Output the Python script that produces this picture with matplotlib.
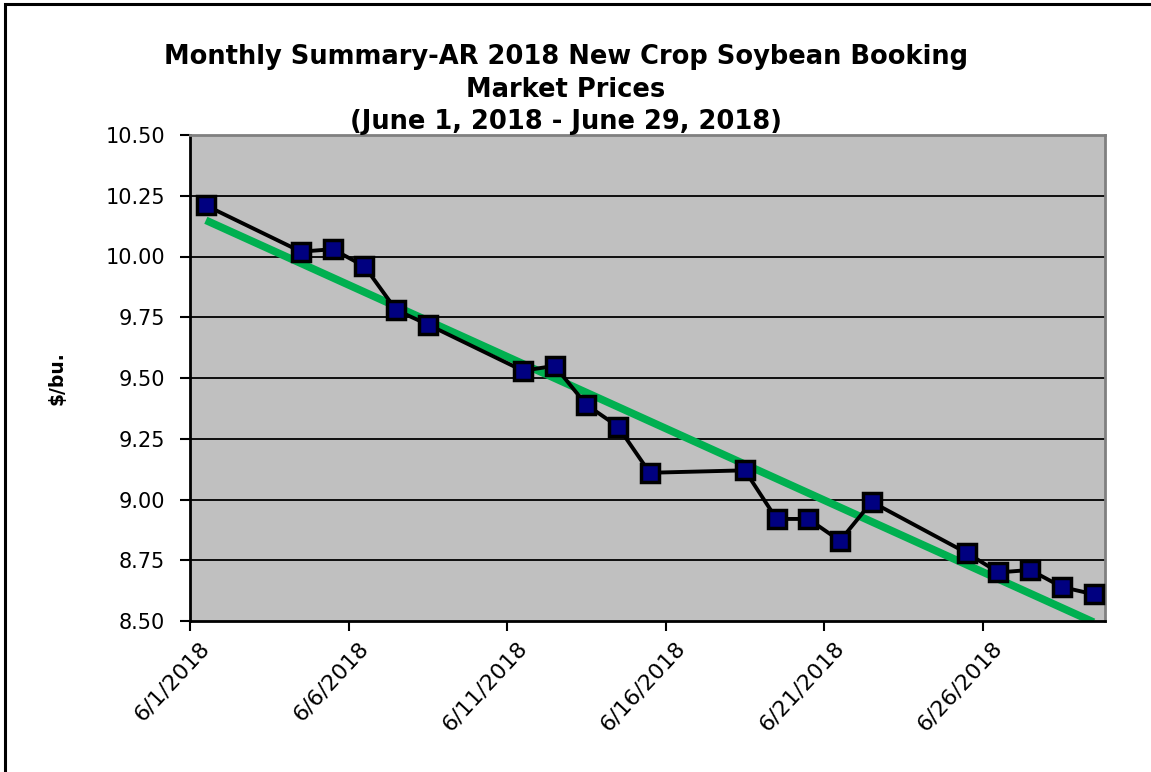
import matplotlib
matplotlib.use("Agg")
import matplotlib.pyplot as plt
import matplotlib.dates as mdates
import matplotlib.transforms as mtransforms
from matplotlib.patches import Rectangle
import numpy as np
from datetime import datetime, timedelta

plt.rcParams['font.family'] = ['DejaVu Sans']

# ---- data ----
dates = ["2018-06-01", "2018-06-04", "2018-06-05", "2018-06-06", "2018-06-07",
         "2018-06-08", "2018-06-11", "2018-06-12", "2018-06-13", "2018-06-14",
         "2018-06-15", "2018-06-18", "2018-06-19", "2018-06-20", "2018-06-21",
         "2018-06-22", "2018-06-25", "2018-06-26", "2018-06-27", "2018-06-28",
         "2018-06-29"]
prices = [10.21, 10.02, 10.03, 9.96, 9.78, 9.72, 9.53, 9.55, 9.39, 9.30, 9.11,
          9.12, 8.92, 8.92, 8.83, 8.99, 8.78, 8.70, 8.71, 8.64, 8.61]
x_tick_labels = ["6/1/2018", "6/6/2018", "6/11/2018", "6/16/2018", "6/21/2018", "6/26/2018"]
y_ticks = [8.50, 8.75, 9.00, 9.25, 9.50, 9.75, 10.00, 10.25, 10.50]
title_lines = ["Monthly Summary-AR 2018 New Crop Soybean Booking",
               "Market Prices",
               "(June 1, 2018 - June 29, 2018)"]
y_label = "$/bu."

# ---- figure ----
W, H = 1151, 772
fig = plt.figure(figsize=(W / 100, H / 100), dpi=100)
fig.patch.set_facecolor("white")

# outer frame
fig.patches.append(Rectangle((5 / W, -0.2), 1.2, 1.2 - 4 / H,
                             transform=fig.transFigure, fill=False,
                             edgecolor="black", linewidth=2.2, clip_on=False))

ax = fig.add_axes([190 / W, (H - 621) / H, (1105 - 190) / W, (621 - 135) / H])
ax.set_facecolor("#C0C0C0")

# positions: each day centered (Excel date axis)
dt = [datetime.strptime(d, "%Y-%m-%d") + timedelta(hours=12) for d in dates]
xnum = mdates.date2num(dt)

# grid lines
for yv in y_ticks[1:-1]:
    ax.axhline(yv, color="black", linewidth=1.3, zorder=1)

# trend line (linear fit)
coef = np.polyfit(xnum, prices, 1)
ax.plot([xnum[0], xnum[-1]], np.polyval(coef, [xnum[0], xnum[-1]]),
        color="#00B050", linewidth=5.5, zorder=2, solid_capstyle="butt")

ax.plot(xnum, prices, color="black", linewidth=2.8, zorder=3,
        marker="s", markersize=13, markerfacecolor="#000080",
        markeredgecolor="black", markeredgewidth=2.5)

x0 = mdates.date2num(datetime(2018, 6, 1))
ax.set_xlim(x0, x0 + 28.86)
ax.set_ylim(8.50, 10.50)

tick_pos = [mdates.date2num(datetime.strptime(t, "%m/%d/%Y")) for t in x_tick_labels]
ax.set_xticks(tick_pos)
ax.set_xticklabels(x_tick_labels, rotation=47, ha="right", rotation_mode="anchor",
                   fontsize=16)
ax.set_yticks(y_ticks)
ax.set_yticklabels([f"{v:.2f}" for v in y_ticks], fontsize=15)
ax.tick_params(axis="both", direction="out", length=7, width=1.5, color="black")
ax.tick_params(axis="x", pad=5)
ax.tick_params(axis="y", pad=11)

shift = mtransforms.ScaledTranslation(9 / 100, 0, fig.dpi_scale_trans)
for lbl in ax.get_xticklabels():
    lbl.set_transform(lbl.get_transform() + shift)

for side in ["top", "right"]:
    ax.spines[side].set_color("#808080")
    ax.spines[side].set_linewidth(2)
for side in ["left", "bottom"]:
    ax.spines[side].set_color("black")
    ax.spines[side].set_linewidth(2)

ax.set_ylabel(y_label, fontsize=13.5, fontweight="bold", labelpad=0)
ax.yaxis.set_label_coords((67 - 190) / (1105 - 190), 0.5)

# title
ys = [57, 90, 122]
for line, yy in zip(title_lines, ys):
    fig.text(566 / W, 1 - yy / H, line, ha="center", va="center",
             fontsize=18.5, fontweight="bold")

fig.savefig("out.png", dpi=100)
